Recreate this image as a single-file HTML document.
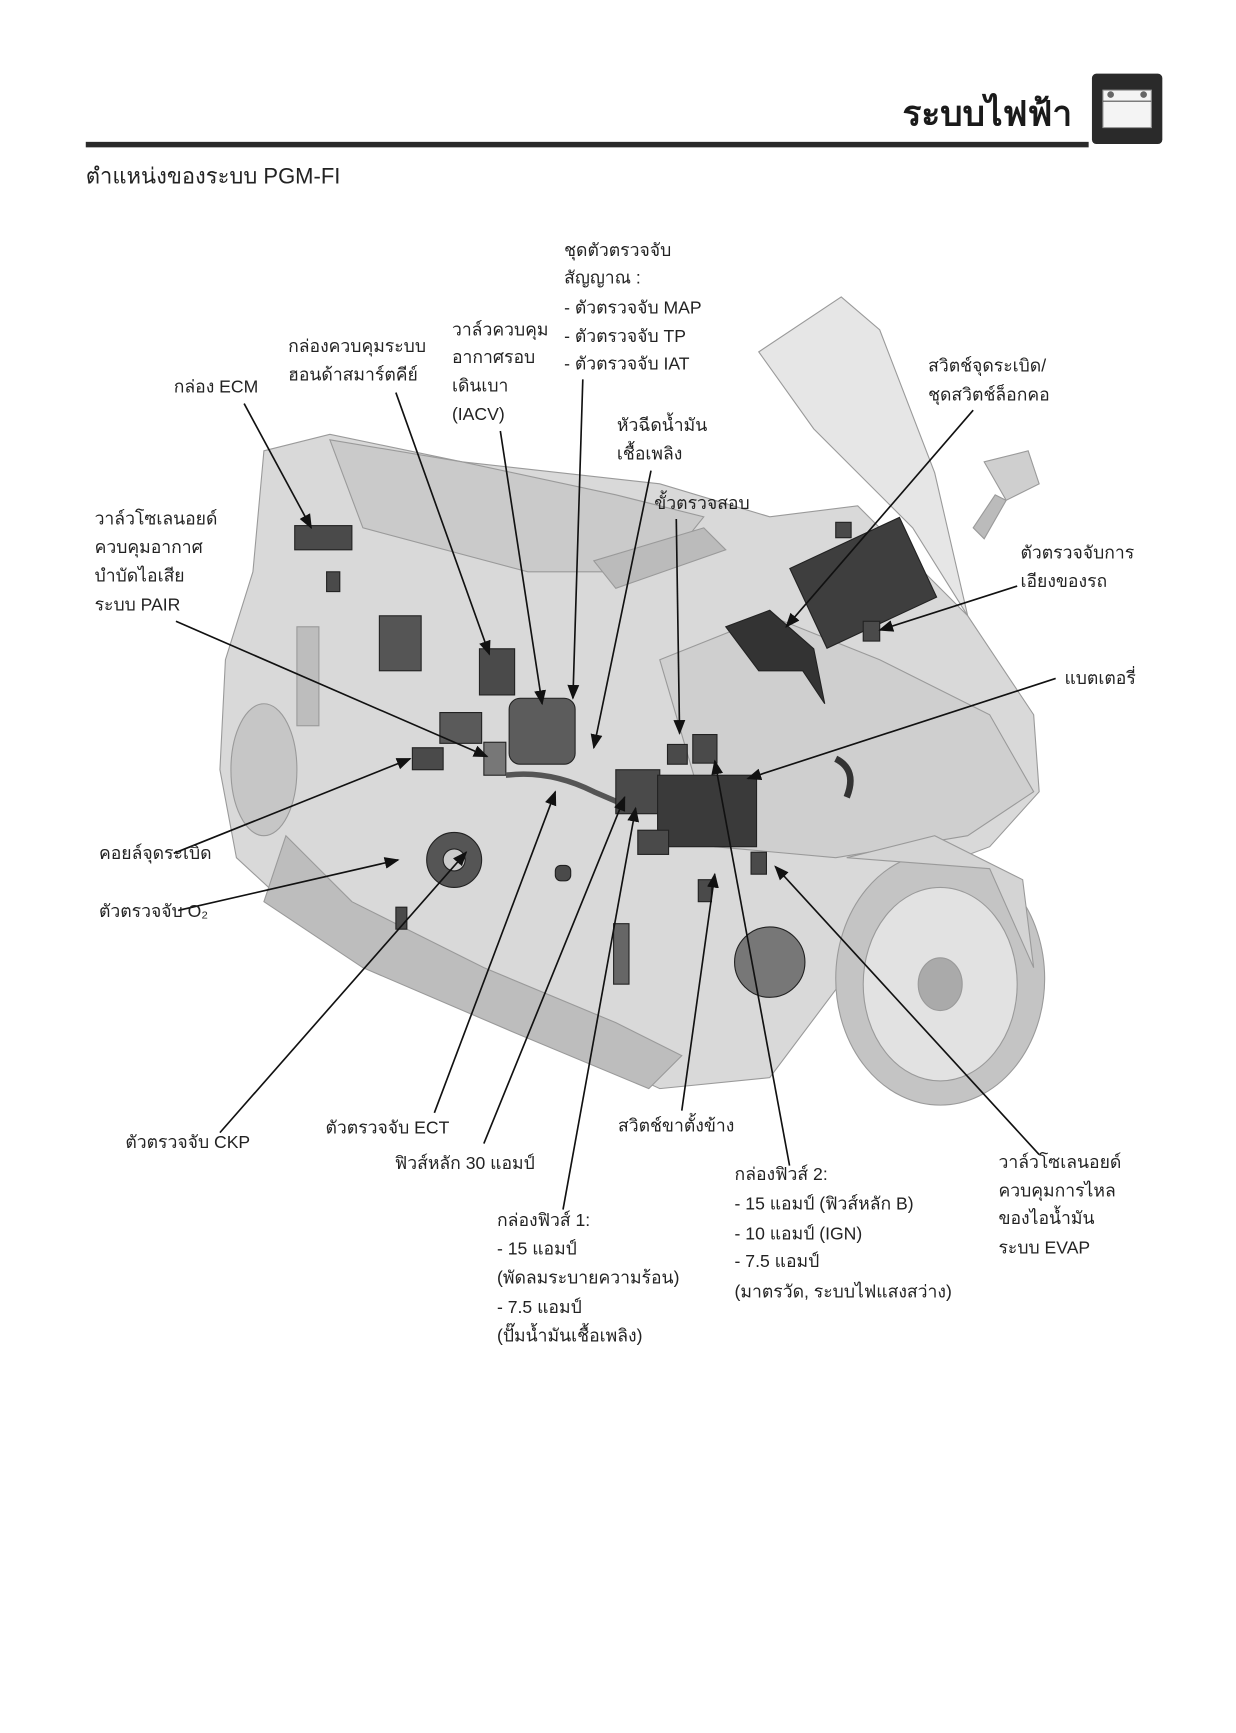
<!DOCTYPE html>
<html><head><meta charset="utf-8"><style>
html,body{margin:0;padding:0;background:#fff}
svg{display:block}
text{font-family:"Liberation Sans","DejaVu Sans",sans-serif;font-size:16px;fill:#222}
</style></head><body>
<svg width="1236" height="1733" viewBox="0 0 1124 1576" preserveAspectRatio="none" xmlns="http://www.w3.org/2000/svg">
<defs><marker id="a" viewBox="0 0 10 10" refX="9" refY="5" markerWidth="9" markerHeight="9" orient="auto"><path d="M0,1 L10,5 L0,9 z" fill="#111"/></marker></defs>
<rect width="1124" height="1576" fill="#fff"/>
<!-- header -->
<text x="975" y="114" text-anchor="end" style="font-size:32px;font-weight:bold;fill:#1a1a1a">ระบบไฟฟ้า</text>
<rect x="993" y="67" width="64" height="64" rx="4" fill="#2a2a2a"/>
<rect x="1003" y="82" width="44" height="34" fill="#f4f4f4" stroke="#999"/>
<line x1="1003" y1="92" x2="1047" y2="92" stroke="#555"/>
<circle cx="1010" cy="86" r="3" fill="#666"/><circle cx="1040" cy="86" r="3" fill="#666"/>
<rect x="78" y="129" width="912" height="5" fill="#2a2a2a"/>
<text x="78" y="167" style="font-size:20px">ตำแหน่งของระบบ PGM-FI</text>

<!-- scooter -->
<g stroke="#9a9a9a" stroke-width="1">
<path d="M690,320 L765,270 L800,300 L850,430 L880,560 L830,480 L740,390 Z" fill="#e6e6e6"/>
<path d="M240,410 L300,395 L420,420 L600,440 L700,470 L780,460 L880,560 L940,650 L945,720 L900,770 L820,800 L760,900 L700,980 L600,990 L470,930 L360,880 L280,840 L215,780 L200,700 L205,600 L230,520 Z" fill="#d9d9d9"/>
<path d="M300,400 L420,420 L560,450 L640,470 L600,520 L480,520 L330,480 Z" fill="#cacaca"/>
<path d="M600,600 L700,560 L800,600 L900,650 L940,720 L880,760 L760,780 L650,770 Z" fill="#cfcfcf"/>
<path d="M260,760 L320,820 L440,880 L560,930 L620,960 L590,990 L470,940 L330,880 L240,820 Z" fill="#bdbdbd"/>
<ellipse cx="855" cy="890" rx="95" ry="115" fill="#c4c4c4"/>
<ellipse cx="855" cy="895" rx="70" ry="88" fill="#e2e2e2"/>
<ellipse cx="855" cy="895" rx="20" ry="24" fill="#aaa"/>
<path d="M770,780 L850,760 L930,800 L940,880 L900,790 Z" fill="#d4d4d4"/>
<path d="M540,510 L640,480 L660,500 L560,535 Z" fill="#bbb"/>
<path d="M895,420 L935,410 L945,440 L915,455 Z" fill="#cfcfcf"/>
<path d="M885,480 L905,450 L915,455 L895,490 Z" fill="#bbb"/>
<ellipse cx="240" cy="700" rx="30" ry="60" fill="#c6c6c6"/>
<rect x="270" y="570" width="20" height="90" fill="#bdbdbd"/>
</g>
<!-- components -->
<g fill="#4a4a4a" stroke="#222" stroke-width="1">
<rect x="268" y="478" width="52" height="22"/>
<rect x="297" y="520" width="12" height="18"/>
<rect x="345" y="560" width="38" height="50" fill="#555"/>
<rect x="436" y="590" width="32" height="42"/>
<rect x="400" y="648" width="38" height="28" fill="#5a5a5a"/>
<rect x="463" y="635" width="60" height="60" rx="10" fill="#5c5c5c"/>
<rect x="375" y="680" width="28" height="20"/>
<rect x="440" y="675" width="20" height="30" fill="#777"/>
<path d="M460,705 Q500,700 540,720 L575,735" stroke="#555" stroke-width="5" fill="none"/>
<rect x="560" y="700" width="40" height="40"/>
<rect x="598" y="705" width="90" height="65" fill="#3a3a3a"/>
<rect x="607" y="677" width="18" height="18"/>
<rect x="630" y="668" width="22" height="26"/>
<rect x="580" y="755" width="28" height="22"/>
<circle cx="413" cy="782" r="25" fill="#555"/><circle cx="413" cy="782" r="10" fill="#ccc"/>
<rect x="635" y="800" width="12" height="20"/>
<rect x="683" y="775" width="14" height="20"/>
<rect x="558" y="840" width="14" height="55" fill="#666"/>
<circle cx="700" cy="875" r="32" fill="#777"/>
<rect x="730" y="490" width="110" height="80" fill="#3e3e3e" transform="rotate(-25 785 530)"/>
<path d="M660,570 L700,555 L740,590 L750,640 L730,610 L690,610 Z" fill="#333"/>
<rect x="785" y="565" width="15" height="18"/>
<rect x="760" y="475" width="14" height="14"/>
<path d="M760,690 Q780,700 770,725" stroke="#333" stroke-width="6" fill="none"/>
<rect x="505" y="787" width="14" height="14" rx="5"/>
<rect x="360" y="825" width="10" height="20"/>
</g>

<!-- leader lines -->
<g stroke="#111" stroke-width="1.5" marker-end="url(#a)">
<line x1="222" y1="367" x2="283" y2="480"/>
<line x1="360" y1="357" x2="445" y2="595"/>
<line x1="455" y1="392" x2="493" y2="640"/>
<line x1="530" y1="345" x2="521" y2="635"/>
<line x1="592" y1="428" x2="540" y2="680"/>
<line x1="615" y1="472" x2="618" y2="667"/>
<line x1="885" y1="373" x2="715" y2="570"/>
<line x1="925" y1="533" x2="800" y2="573"/>
<line x1="960" y1="617" x2="680" y2="708"/>
<line x1="160" y1="565" x2="443" y2="688"/>
<line x1="158" y1="776" x2="373" y2="690"/>
<line x1="162" y1="828" x2="362" y2="782"/>
<line x1="200" y1="1030" x2="424" y2="775"/>
<line x1="395" y1="1012" x2="505" y2="720"/>
<line x1="440" y1="1040" x2="568" y2="725"/>
<line x1="512" y1="1100" x2="578" y2="735"/>
<line x1="620" y1="1010" x2="650" y2="795"/>
<line x1="718" y1="1060" x2="650" y2="692"/>
<line x1="945" y1="1050" x2="705" y2="788"/>
</g>

<!-- labels -->
<text x="513" y="233">ชุดตัวตรวจจับ</text>
<text x="513" y="258">สัญญาณ :</text>
<text x="513" y="285">- ตัวตรวจจับ MAP</text>
<text x="513" y="311">- ตัวตรวจจับ TP</text>
<text x="513" y="336">- ตัวตรวจจับ IAT</text>
<text x="411" y="305">วาล์วควบคุม</text>
<text x="411" y="330">อากาศรอบ</text>
<text x="411" y="356">เดินเบา</text>
<text x="411" y="382">(IACV)</text>
<text x="262" y="320">กล่องควบคุมระบบ</text>
<text x="262" y="346">ฮอนด้าสมาร์ตคีย์</text>
<text x="158" y="357">กล่อง ECM</text>
<text x="561" y="392">หัวฉีดน้ำมัน</text>
<text x="561" y="418">เชื้อเพลิง</text>
<text x="595" y="463">ขั้วตรวจสอบ</text>
<text x="844" y="338">สวิตช์จุดระเบิด/</text>
<text x="844" y="364">ชุดสวิตช์ล็อกคอ</text>
<text x="86" y="477">วาล์วโซเลนอยด์</text>
<text x="86" y="503">ควบคุมอากาศ</text>
<text x="86" y="529">บำบัดไอเสีย</text>
<text x="86" y="555">ระบบ PAIR</text>
<text x="928" y="508">ตัวตรวจจับการ</text>
<text x="928" y="534">เอียงของรถ</text>
<text x="968" y="622">แบตเตอรี่</text>
<text x="90" y="781">คอยล์จุดระเบิด</text>
<text x="90" y="834">ตัวตรวจจับ O₂</text>
<text x="114" y="1044">ตัวตรวจจับ CKP</text>
<text x="296" y="1031">ตัวตรวจจับ ECT</text>
<text x="359" y="1063">ฟิวส์หลัก 30 แอมป์</text>
<text x="562" y="1029">สวิตช์ขาตั้งข้าง</text>
<text x="668" y="1073">กล่องฟิวส์ 2:</text>
<text x="668" y="1100">- 15 แอมป์ (ฟิวส์หลัก B)</text>
<text x="668" y="1127">- 10 แอมป์ (IGN)</text>
<text x="668" y="1152">- 7.5 แอมป์</text>
<text x="668" y="1180">(มาตรวัด, ระบบไฟแสงสว่าง)</text>
<text x="452" y="1115">กล่องฟิวส์ 1:</text>
<text x="452" y="1141">- 15 แอมป์</text>
<text x="452" y="1167">(พัดลมระบายความร้อน)</text>
<text x="452" y="1194">- 7.5 แอมป์</text>
<text x="452" y="1220">(ปั๊มน้ำมันเชื้อเพลิง)</text>
<text x="908" y="1062">วาล์วโซเลนอยด์</text>
<text x="908" y="1088">ควบคุมการไหล</text>
<text x="908" y="1113">ของไอน้ำมัน</text>
<text x="908" y="1140">ระบบ EVAP</text>
</svg>
</body></html>
